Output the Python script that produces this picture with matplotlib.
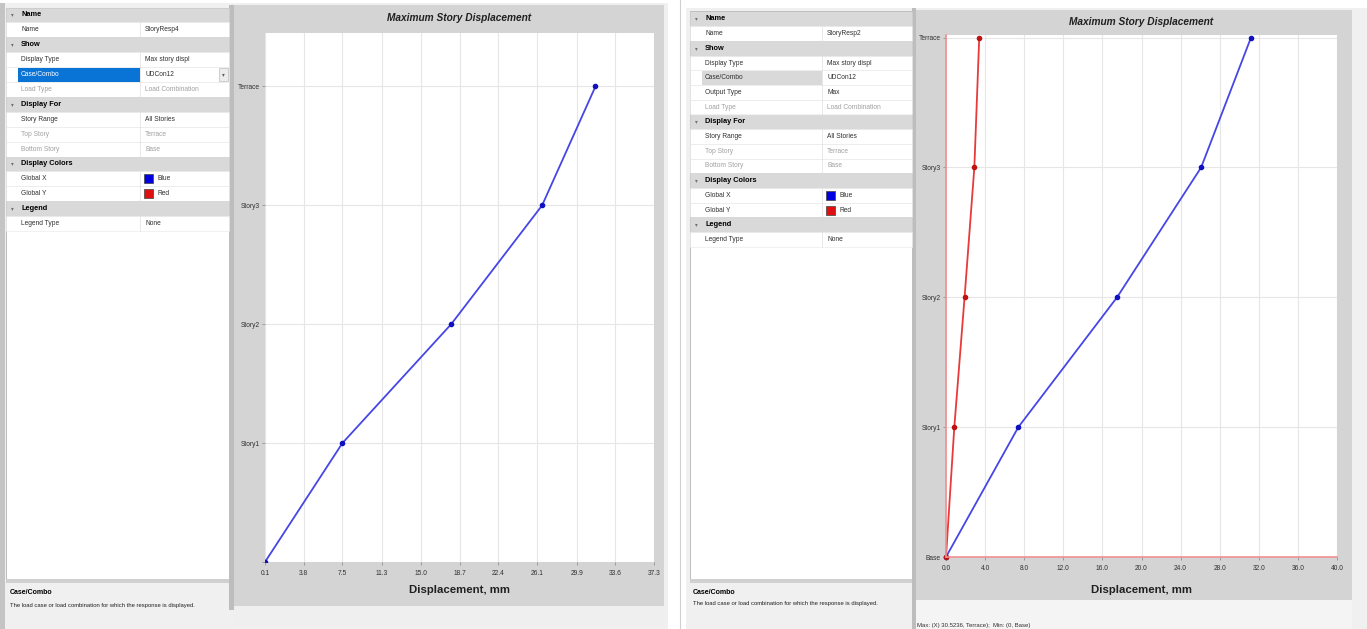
import matplotlib.pyplot as plt
from matplotlib.patches import Rectangle

# ---- data ----
stories = ['Base', 'Story1', 'Story2', 'Story3', 'Terrace']
levels = [0, 1, 2, 3, 4]

left_x_disp = [0.1, 7.5, 17.9, 26.6, 31.7]          # Global X, StoryResp4
left_xticks = [0.1, 3.8, 7.5, 11.3, 15.0, 18.7, 22.4, 26.1, 29.9, 33.6, 37.3]

right_x_disp = [0.0, 7.4, 17.5, 26.1, 31.2]         # Global X, StoryResp2
right_y_disp = [0.0, 0.85, 1.9, 2.9, 3.4]           # Global Y, StoryResp2
right_xticks = [0.0, 4.0, 8.0, 12.0, 16.0, 20.0, 24.0, 28.0, 32.0, 36.0, 40.0]

left_rows = [
    ('h', 'Name', ''), ('r', 'Name', 'StoryResp4'),
    ('h', 'Show', ''), ('r', 'Display Type', 'Max story displ'),
    ('sel', 'Case/Combo', 'UDCon12'), ('d', 'Load Type', 'Load Combination'),
    ('h', 'Display For', ''), ('r', 'Story Range', 'All Stories'),
    ('d', 'Top Story', 'Terrace'), ('d', 'Bottom Story', 'Base'),
    ('h', 'Display Colors', ''), ('cb', 'Global X', 'Blue'), ('cr', 'Global Y', 'Red'),
    ('h', 'Legend', ''), ('r', 'Legend Type', 'None'),
]
right_rows = [
    ('h', 'Name', ''), ('r', 'Name', 'StoryResp2'),
    ('h', 'Show', ''), ('r', 'Display Type', 'Max story displ'),
    ('g', 'Case/Combo', 'UDCon12'), ('r', 'Output Type', 'Max'),
    ('d', 'Load Type', 'Load Combination'),
    ('h', 'Display For', ''), ('r', 'Story Range', 'All Stories'),
    ('d', 'Top Story', 'Terrace'), ('d', 'Bottom Story', 'Base'),
    ('h', 'Display Colors', ''), ('cb', 'Global X', 'Blue'), ('cr', 'Global Y', 'Red'),
    ('h', 'Legend', ''), ('r', 'Legend Type', 'None'),
]

W, H = 1367, 629
plt.rcParams['font.family'] = ['Liberation Sans', 'DejaVu Sans']

fig = plt.figure(figsize=(W / 100, H / 100), dpi=100)
bg = fig.add_axes([0, 0, 1, 1])
bg.set_xlim(0, W)
bg.set_ylim(H, 0)
bg.axis('off')


def box(x0, y0, x1, y1, fc, ec='none', lw=0.6):
    bg.add_patch(Rectangle((x0, y0), x1 - x0, y1 - y0, facecolor=fc,
                           edgecolor=ec, linewidth=lw))


def prop_grid(rows, x0, xd, x1, ytop, rh):
    for i, (kind, lab, val) in enumerate(rows):
        y = ytop + i * rh
        yc = y + rh / 2
        if kind == 'h':
            box(x0, y, x1, y + rh, '#d9d9d9', '#cfcfcf', 0.4)
            bg.text(x0 + 5, yc, '▾', fontsize=4, color='#707070', va='center',
                    family='DejaVu Sans')
            bg.text(x0 + 15, yc, lab, fontsize=5.3, weight='bold', va='center')
            continue
        box(x0, y, x1, y + rh, 'white', '#e6e6e6', 0.4)
        tc = '#a0a0a0' if kind == 'd' else '#303030'
        lc = tc
        if kind == 'sel':
            box(x0 + 12, y + 0.5, xd, y + rh - 0.5, '#0a74d6')
            lc = 'white'
            box(x1 - 10, y + 1, x1 - 1, y + rh - 1, '#ececec', '#b0b0b0', 0.4)
            bg.text(x1 - 5.5, yc, '▾', fontsize=4, color='#606060', ha='center',
                    va='center', family='DejaVu Sans')
        if kind == 'g':
            box(x0 + 12, y + 0.5, xd, y + rh - 0.5, '#d9d9d9')
        bg.plot([xd, xd], [y, y + rh], color='#e0e0e0', lw=0.5)
        bg.text(x0 + 15, yc, lab, fontsize=4.8, color=lc, va='center')
        vx = xd + 5
        if kind in ('cb', 'cr'):
            box(xd + 4, yc - 4.5, xd + 13, yc + 4.5,
                '#0000e0' if kind == 'cb' else '#e01010', '#404040', 0.5)
            vx = xd + 18
        bg.text(vx, yc, val, fontsize=4.8, color=tc, va='center')


def description(x, y):
    bg.text(x, y, 'Case/Combo', fontsize=5, weight='bold', va='center')
    bg.text(x, y + 12, 'The load case or load combination for which the response is displayed.',
            fontsize=4.2, va='center', color='#202020')


# ---- left screenshot frame ----
box(0, 3, 668, 629, '#f0f0f0')
box(0, 3, 5, 629, '#c4c4c4')
box(6, 8, 229, 580, 'white', '#b4b4b4')
box(6, 579, 229, 583, '#d0d0d0')
description(10, 593)
box(229, 5, 234, 610, '#bdbdbd')
box(234, 5, 664, 606, '#d4d4d4')
box(234, 606, 664, 625, '#efefef')
prop_grid(left_rows, 6, 140, 229, 7.5, 14.9)

# ---- right screenshot frame ----
bg.plot([680, 680], [0, H], color='#d0d0d0', lw=0.8)
box(686, 8, W, H, '#f0f0f0')
box(690, 11, 912, 580, 'white', '#b4b4b4')
box(690, 579, 912, 583, '#d0d0d0')
description(693, 592)
box(912, 8, 916, H, '#bdbdbd')
box(916, 10, 1352, 600, '#d4d4d4')
box(916, 600, 1352, H, '#f4f4f4')
bg.text(917, 625, 'Max: (X) 30.5236, Terrace);  Min: (0, Base)', fontsize=4.3,
        va='center', color='#303030')
prop_grid(right_rows, 690, 822, 912, 11.6, 14.7)


def chart(px0, py0, px1, py1, xlim, ylim, xticks, ylabels, title_y, xlabel_y):
    ax = fig.add_axes([px0 / W, 1 - py1 / H, (px1 - px0) / W, (py1 - py0) / H])
    ax.set_facecolor('white')
    ax.set_xlim(*xlim)
    ax.set_ylim(*ylim)
    ax.set_xticks(xticks)
    ax.set_xticklabels(['%.1f' % t for t in xticks])
    ax.set_yticks(levels)
    ax.set_yticklabels(ylabels)
    ax.grid(True, color='#e6e6e6', lw=0.8)
    ax.set_axisbelow(True)
    for s in ax.spines.values():
        s.set_visible(False)
    ax.tick_params(length=2.5, width=0.6, color='#909090', labelsize=4.8,
                   labelcolor='#303030', pad=3)
    ax.tick_params(axis='y', pad=1.5)
    ax.text(0.5, 1 + (py0 - title_y) / (py1 - py0), 'Maximum Story Displacement',
            transform=ax.transAxes, ha='center', va='center', fontsize=7.3,
            weight='bold', style='italic', color='#202020')
    ax.set_xlabel('Displacement, mm', fontsize=8.2, weight='bold', color='#202020')
    ax.xaxis.set_label_coords(0.5, -(xlabel_y - py1) / (py1 - py0))
    ax.xaxis.label.set_va('center')
    return ax


ax1 = chart(265, 33, 654, 562, (0.1, 37.3), (0, 4.45), left_xticks,
            [''] + stories[1:], 18, 590)
ax1.plot(left_x_disp, levels, color='#4646e6', lw=1.3, marker='o', ms=3,
         mfc='#1010c0', mec='#1010c0')

ax2 = chart(946, 35, 1337, 557, (0, 40), (0, 4.02), right_xticks,
            stories, 22, 590)
for side in ('left', 'bottom'):
    ax2.spines[side].set_visible(True)
    ax2.spines[side].set_color('#f09090')
    ax2.spines[side].set_linewidth(1.2)
ax2.plot(right_x_disp, levels, color='#4646e6', lw=1.3, marker='o', ms=3,
         mfc='#1010c0', mec='#1010c0', clip_on=False)
ax2.plot(right_y_disp, levels, color='#e83a3a', lw=1.3, marker='o', ms=3,
         mfc='#c01010', mec='#c01010', clip_on=False)

fig.savefig('out.png', dpi=100)
